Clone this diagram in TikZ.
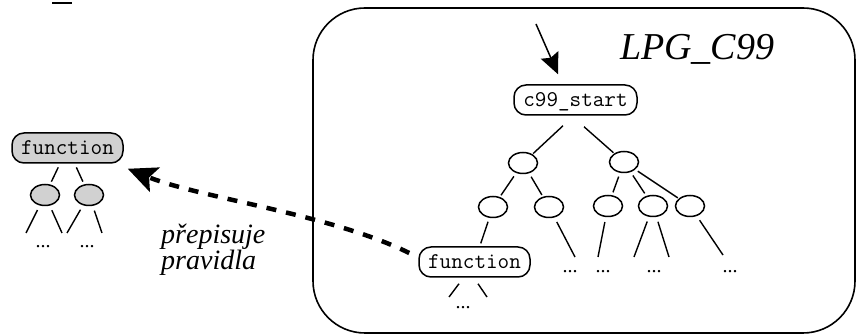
\documentclass[tikz,border=0pt]{standalone}
\usepackage{fontspec}
\setmainfont{Liberation Serif}
\usetikzlibrary{arrows.meta,calc,shapes.geometric}
\begin{document}
\begin{tikzpicture}[x=1pt,y=-1pt,
  codebox/.style={draw, line width=1.5pt, rounded corners=12pt, minimum height=30pt,
    inner xsep=0pt, inner ysep=0pt, text height=14.5pt, text depth=1.5pt,
    font=\fontsize{22.5pt}{23pt}\ttfamily},
  treenode/.style={draw, ellipse, line width=1.5pt, minimum width=29pt, minimum height=21pt, inner sep=0pt},
  shaded/.style={fill=black!18},
  edge/.style={line width=1.4pt, shorten <=4pt, shorten >=3pt},
  leafedge/.style={line width=1.4pt, shorten <=5pt},
  more/.style={font=\fontsize{20pt}{20pt}\selectfont, inner sep=0pt, anchor=base},
  entryarrow/.style={line width=1.5pt, -{Stealth[length=21pt,width=19pt,inset=3pt]}},
  rewrite/.style={line width=4.5pt, dash pattern=on 10pt off 10pt,
    -{Stealth[length=29pt,width=26pt,inset=6pt]}},
  label/.style={font=\fontsize{28pt}{26pt}\selectfont\itshape, inner sep=0pt, anchor=base west}
]
\useasboundingbox (0,0) rectangle (857,336);

% short rule at the top left
\draw[line width=1.5pt] (52,3) -- (72,3);

% ---------------- rewritten rule (left) ----------------
\node[codebox, shaded, minimum width=111pt] (fn1) at (67.5,148) {function};
\node[treenode, shaded] (ga) at (45,195) {};
\node[treenode, shaded] (gb) at (89,195) {};
\draw[edge] (fn1) -- (ga);
\draw[edge] (fn1) -- (gb);
\coordinate (ga1) at (26,233);
\coordinate (ga2) at (62,233);
\coordinate (gb1) at (67,233);
\coordinate (gb2) at (102,233);
\draw[leafedge] (ga) -- (ga1);
\draw[leafedge] (ga) -- (ga2);
\draw[leafedge] (gb) -- (gb1);
\draw[leafedge] (gb) -- (gb2);
\node[more] (gadots) at (43,248) {...};
\node[more] (gbdots) at (87,248) {...};

% ---------------- grammar LPG_C99 (right) ----------------
\draw[line width=1.6pt, rounded corners=52pt] (313,8) rectangle (855,333);
\node[label, font=\fontsize{38pt}{40pt}\selectfont\itshape] (title) at (620,60) {LPG\_C99};

\node[codebox, minimum width=123pt] (c99) at (575.5,100) {c99\_start};
\coordinate (entry) at (536,24);
\draw[entryarrow] (entry) -- ($(c99.north)+(-17.5,-10)$);

\node[treenode] (L1) at (523,163) {};
\node[treenode] (R1) at (624,162) {};
\draw[line width=1.4pt, shorten >=1pt] ($(c99.south)+(-12.5,10)$) -- (L1);
\draw[line width=1.4pt, shorten >=1pt] ($(c99.south)+(8.5,11)$) -- (R1);

\node[treenode] (LL) at (493,207) {};
\node[treenode] (LR) at (549,207) {};
\node[treenode] (RA) at (608,206) {};
\node[treenode] (RB) at (653,206) {};
\node[treenode] (RC) at (690,206) {};
\draw[edge, shorten >=2pt] (L1) -- (LL);
\draw[edge, shorten >=2pt] (L1) -- (LR);
\draw[edge] (R1) -- (RA);
\draw[edge] (R1) -- (RB);
\draw[edge, shorten <=3pt, shorten >=1pt] (R1) -- (RC);

\node[codebox, minimum width=111pt] (fn2) at (474.5,262) {function};
\draw[edge] (LL) -- (fn2);

\coordinate (LRe) at (575,257);
\coordinate (RAe) at (598,257);
\coordinate (RBe1) at (634,257);
\coordinate (RBe2) at (669,257);
\coordinate (RCe) at (723,255);
\draw[leafedge] (LR) -- (LRe);
\draw[leafedge] (RA) -- (RAe);
\draw[leafedge] (RB) -- (RBe1);
\draw[leafedge] (RB) -- (RBe2);
\draw[leafedge] (RC) -- (RCe);
\node[more] (LRdots) at (570,273) {...};
\node[more] (RAdots) at (603,273) {...};
\node[more] (RBdots) at (654,273) {...};
\node[more] (RCdots) at (730,273) {...};

\coordinate (fe1) at (449,297);
\coordinate (fe2) at (487,297);
\draw[line width=1.4pt] ($(fn2.south)+(-15.5,6)$) -- (fe1);
\draw[line width=1.4pt] ($(fn2.south)+(3.5,6)$) -- (fe2);
\node[more] (fndots) at (463,308.5) {...};

% ---------------- rewriting relation ----------------
\draw[rewrite] ($(fn2.west)+(-9,-9)$) .. controls (330,214) and (200,198) .. ($(fn1.south east)+(4,5)$);
\node[label] (lblA) at (161,244) {přepisuje};
\node[label] (lblB) at (161,270) {pravidla};
\end{tikzpicture}
\end{document}
